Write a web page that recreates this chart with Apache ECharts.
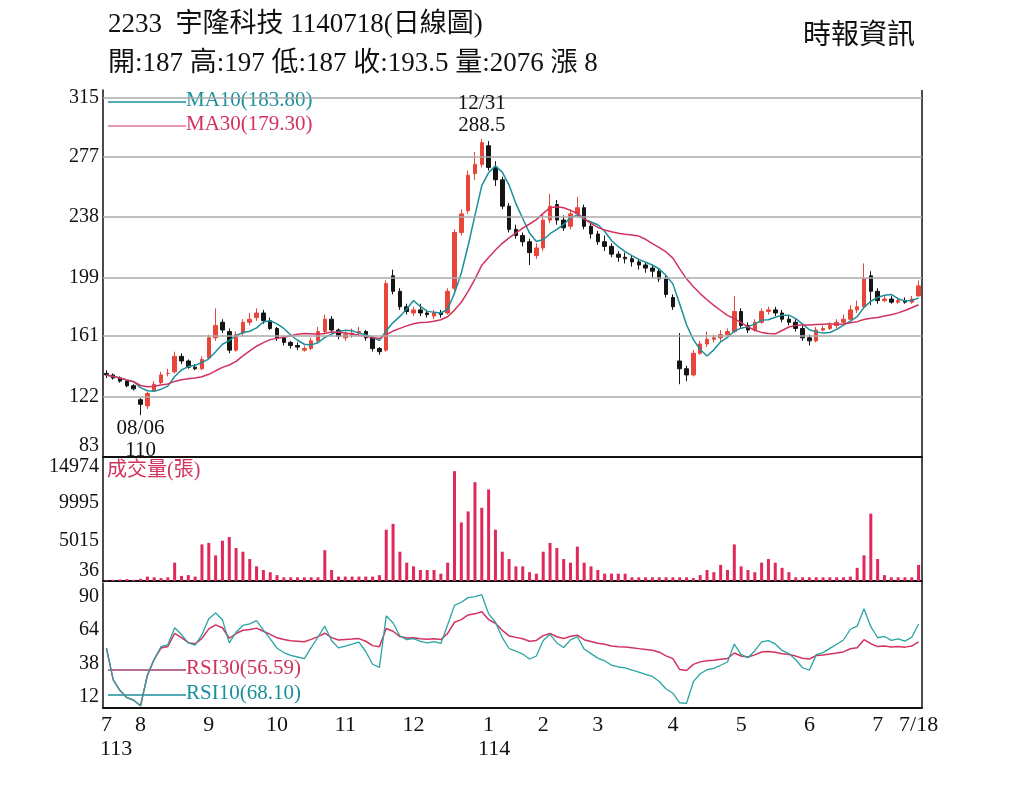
<!DOCTYPE html>
<html lang="zh-TW">
<head>
<meta charset="UTF-8">
<title>2233 宇隆科技 日線圖</title>
<script src="https://cdn.jsdelivr.net/npm/echarts@6/dist/echarts.min.js"></script>
<style>
  html, body { margin: 0; padding: 0; background: #fff; }
  #chart { width: 1024px; height: 790px; }
</style>
</head>
<body>
<div id="chart"></div>
<script>
// 每根K棒約代表兩個交易日，數值由圖上估讀
var opens = [137,136,134,132,129,120,116,126,131,137,138,148,145,141,140,147,160,170,164,152,163,170,173,176,171,166,160,157,155,152,153,158,164,172,165,160,162,163,164,160,153,152,200,190,180,176,178,176,174,176,176,192,228,242,266,272,284,270,262,245,230,226,222,213,218,236,246,236,232,240,244,232,227,222,219,214,212,211,209,207,205,203,198,186,145,140,136,150,156,159,160,162,164,177,168,165,170,177,178,176,172,170,166,160,158,165,166,168,170,172,178,180,200,190,184,185,183,184,183,187];
var closes = [136,134,132,129,127,117,124,130,136,137,148,145,141,140,146,160,168,165,152,162,170,172,176,171,166,160,157,155,154,153,158,164,172,165,161,162,163,164,160,153,151,195,190,180,177,178,176,175,176,175,190,228,240,265,272,286,270,262,245,230,226,222,215,218,236,245,236,231,240,244,232,227,222,219,214,212,211,209,207,205,203,198,188,180,140,136,150,156,159,160,162,164,177,168,165,170,177,178,176,172,170,166,160,158,165,166,168,170,172,178,180,198,190,184,185,183,184,183,185,193.5];
var lows = [134,133,131,128,126,110,114,125,130,135,137,143,140,139,139,146,158,163,150,151,161,168,171,169,165,158,155,153,152,151,152,157,163,163,159,158,160,161,158,151,149,151,188,178,175,174,174,173,172,173,175,190,226,240,262,270,268,258,243,228,224,219,207,211,216,234,233,229,230,238,230,224,220,216,212,209,208,206,204,202,199,196,186,178,130,132,135,149,154,157,158,160,163,166,163,164,169,175,174,170,168,164,158,155,157,164,165,166,169,171,176,179,181,182,183,182,182,182,182,187];
var highs = [139,137,135,133,130,121,125,132,138,140,151,150,146,143,148,162,179,172,166,164,172,176,179,178,173,167,161,158,157,155,160,167,175,174,166,164,166,167,165,161,154,197,204,192,182,180,182,178,178,178,192,230,243,268,280,288.5,287,274,264,247,233,228,224,221,240,253,249,239,243,251,246,234,229,226,221,216,215,213,211,209,207,205,200,188,163,142,152,158,164,162,165,166,187,179,170,172,179,180,180,178,174,172,168,162,167,168,170,172,175,181,184,208,203,192,187,187,186,186,187,197];
var volumes = [100,150,200,250,150,300,600,500,400,500,2500,700,800,600,5000,5200,3500,5500,6000,4500,4000,3000,2000,1500,1200,800,500,500,500,500,500,500,4200,1500,600,600,600,600,600,600,800,7000,7800,4000,2500,2000,1500,1500,1500,1000,2500,15000,8000,9500,13500,10000,12500,7000,4000,3000,2000,2000,1200,1000,4000,5200,4500,3000,2500,4700,2500,2000,1500,1000,1000,1000,1000,500,500,500,500,500,500,500,500,500,400,800,1500,1200,2200,1500,5000,2000,1500,1200,2500,3000,2500,1800,1200,500,500,500,500,500,500,500,500,600,1800,3500,9200,3000,800,500,500,500,500,2200];
var monthTicks = {0:'7',5:'8',15:'9',25:'10',35:'11',45:'12',56:'1',64:'2',72:'3',83:'4',93:'5',103:'6',113:'7',119:'7/18'};
var priceTicks = [83,122,161,199,238,277,315];
var volTicks = ['36','5015','9995','14974'];
var rsiTicks = [12,38,64,90];
// where the tick labels sit on the axis (in axis units), as printed on the original
var priceLabelAt = [90.5,122,161,199,238,277,315];
var volLabelAt = [1370,5460,10650,15570];

var cats = closes.map(function (v, i) { return i; });
var candles = closes.map(function (c, i) { return [opens[i], c, lows[i], highs[i]]; });

function ma(n) {
  return closes.map(function (v, i) {
    var s = 0, k = 0;
    for (var j = Math.max(0, i - n + 1); j <= i; j++) { s += closes[j]; k++; }
    return +(s / k).toFixed(2);
  });
}
function rsi(n) {
  var out = [50], ag = 1, al = 1;
  for (var i = 1; i < closes.length; i++) {
    var d = closes[i] - closes[i - 1];
    var g = d > 0 ? d : 0, l = d < 0 ? -d : 0;
    var m = Math.min(i + 1, n);
    ag = (ag * (m - 1) + g) / m;
    al = (al * (m - 1) + l) / m;
    out.push(ag + al === 0 ? 50 : +(100 * ag / (ag + al)).toFixed(2));
  }
  return out;
}

var RED = '#e8463a', DARK = '#151515', TEAL = '#1b8f9c', CRIM = '#d2325e';
var serif = '"Liberation Serif", "Noto Sans CJK TC", serif';

var chart = echarts.init(document.getElementById('chart'));
function xAx(idx, show) {
  return {
    type: 'category', gridIndex: idx, data: cats, boundaryGap: true,
    axisLine: { show: true, lineStyle: { color: '#111', width: 2 } },
    axisTick: { show: false },
    axisLabel: show ? {
      color: '#111', fontFamily: serif, fontSize: 22, margin: 6,
      interval: function (i) { return monthTicks[i] !== undefined; },
      formatter: function (v) { return monthTicks[v]; }
    } : { show: false },
    splitLine: { show: false }
  };
}
function yAx(idx, min, max, at, fmt) {
  return {
    type: 'value', gridIndex: idx, min: min, max: max,
    axisLine: { show: true, lineStyle: { color: '#111', width: 1.5 } },
    axisTick: { show: false },
    axisLabel: { customValues: at, color: '#111', fontFamily: serif, fontSize: 20, margin: 4, formatter: fmt },
    splitLine: { show: false }
  };
}

chart.setOption({
  animation: false,
  backgroundColor: '#fff',
  title: [
    { text: '2233  宇隆科技 1140718(日線圖)', left: 103, top: 6,
      textStyle: { color: '#111', fontFamily: serif, fontSize: 27, fontWeight: 'normal' } },
    { text: '開:187 高:197 低:187 收:193.5 量:2076 漲 8', left: 103, top: 45,
      textStyle: { color: '#111', fontFamily: serif, fontSize: 27, fontWeight: 'normal' } },
    { text: '時報資訊', left: 798, top: 18,
      textStyle: { color: '#111', fontFamily: serif, fontSize: 28, fontWeight: 'normal' } }
  ],
  grid: [
    { left: 103, right: 102, top: 90, height: 367 },
    { left: 103, right: 102, top: 458, height: 123 },
    { left: 103, right: 102, top: 583, height: 125 }
  ],
  xAxis: [xAx(0, false), xAx(1, false), xAx(2, true)],
  yAxis: [
    yAx(0, 83, 320, priceLabelAt, function (v) { return String(priceTicks[priceLabelAt.indexOf(v)]); }),
    yAx(1, 0, 16800, volLabelAt, function (v) { return volTicks[volLabelAt.indexOf(v)]; }),
    yAx(2, 3, 101, rsiTicks, function (v) { return String(v); })
  ],
  graphic: [
    { type: 'line', shape: { x1: 922, y1: 90, x2: 922, y2: 708 }, style: { stroke: '#111', lineWidth: 1.5 } },
    { type: 'line', shape: { x1: 108, y1: 102, x2: 186, y2: 102 }, style: { stroke: TEAL, lineWidth: 1.5 } },
    { type: 'text', left: 186, top: 90, style: { text: 'MA10(183.80)', fill: TEAL, font: '21px ' + serif } },
    { type: 'line', shape: { x1: 108, y1: 126, x2: 186, y2: 126 }, style: { stroke: CRIM, lineWidth: 1 } },
    { type: 'text', left: 186, top: 114, style: { text: 'MA30(179.30)', fill: CRIM, font: '21px ' + serif } },
    { type: 'text', left: 107, top: 461, style: { text: '成交量(張)', fill: CRIM, font: '20px ' + serif } },
    { type: 'line', shape: { x1: 108, y1: 670, x2: 186, y2: 670 }, style: { stroke: '#a0406e', lineWidth: 1.5 } },
    { type: 'text', left: 186, top: 658, style: { text: 'RSI30(56.59)', fill: CRIM, font: '21px ' + serif } },
    { type: 'line', shape: { x1: 108, y1: 695, x2: 186, y2: 695 }, style: { stroke: TEAL, lineWidth: 1.5 } },
    { type: 'text', left: 186, top: 683, style: { text: 'RSI10(68.10)', fill: TEAL, font: '21px ' + serif } },
    { type: 'text', left: 100, top: 738, style: { text: '113', fill: '#111', font: '22px ' + serif } },
    { type: 'text', left: 478, top: 738, style: { text: '114', fill: '#111', font: '22px ' + serif } }
  ],
  series: [
    {
      type: 'candlestick', xAxisIndex: 0, yAxisIndex: 0, data: candles, barWidth: 4,
      itemStyle: { color: RED, color0: DARK, borderColor: RED, borderColor0: DARK, borderWidth: 1 },
      markLine: {
        silent: true, symbol: 'none', label: { show: false },
        lineStyle: { color: '#aaa', type: 'solid', width: 1.5 },
        data: priceTicks.slice(1).map(function (v) { return { yAxis: v }; })
      },
      markPoint: {
        symbol: 'circle', symbolSize: 0,
        label: { show: true, color: '#111', fontFamily: serif, fontSize: 21, lineHeight: 22 },
        data: [
          { coord: [55, 288.5], label: { formatter: '12/31\n288.5', position: 'top', distance: 2 } },
          { coord: [5, 110], label: { formatter: '08/06\n110', position: 'bottom', distance: 2 } }
        ]
      }
    },
    { type: 'line', xAxisIndex: 0, yAxisIndex: 0, data: ma(5), symbol: 'none', lineStyle: { color: TEAL, width: 1.5 } },
    { type: 'line', xAxisIndex: 0, yAxisIndex: 0, data: ma(15), symbol: 'none', lineStyle: { color: CRIM, width: 1.5 } },
    { type: 'bar', xAxisIndex: 1, yAxisIndex: 1, data: volumes, barWidth: 3, itemStyle: { color: '#e0285a' } },
    { type: 'line', xAxisIndex: 2, yAxisIndex: 2, data: rsi(24), symbol: 'none', lineStyle: { color: CRIM, width: 1.5 } },
    { type: 'line', xAxisIndex: 2, yAxisIndex: 2, data: rsi(8), symbol: 'none', lineStyle: { color: '#2aa3a3', width: 1.3 } }
  ]
});
</script>
</body>
</html>
